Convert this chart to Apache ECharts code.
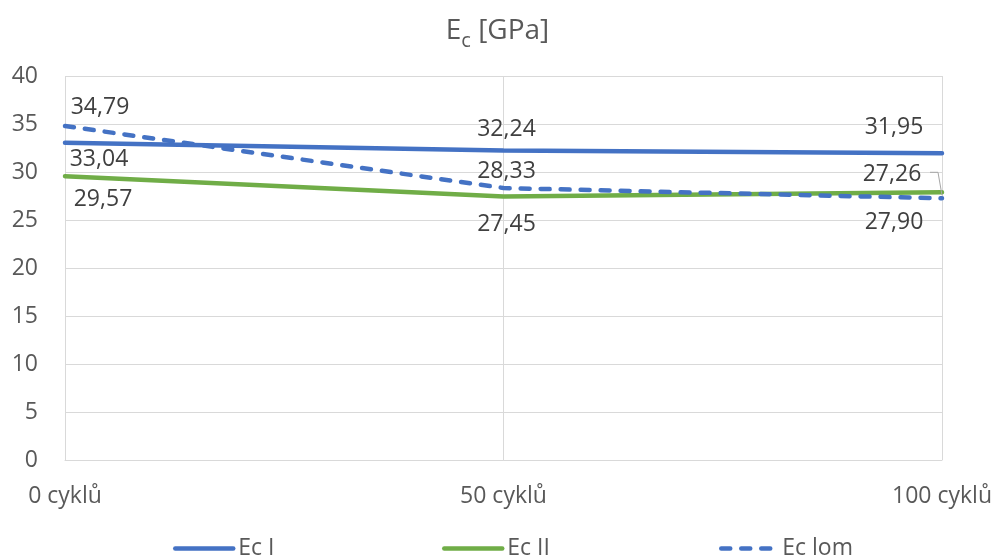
<!DOCTYPE html>
<html><head><meta charset="utf-8">
<script src="https://cdn.jsdelivr.net/npm/echarts@6/dist/echarts.min.js"></script>
<style>html,body{margin:0;padding:0;background:#fff}#c{width:995px;height:557px}</style>
</head><body><div id="c"></div>
<script>
// ---- data ----
const categories = ['0 cyklů', '50 cyklů', '100 cyklů'];
const ecI = [33.04, 32.24, 31.95];
const ecII = [29.57, 27.45, 27.90];
const ecLom = [34.79, 28.33, 27.26];
const seriesNames = ['Ec I', 'Ec II', 'Ec lom'];
const yMin = 0, yMax = 40, yInterval = 5;

// ---- label placement (styling): [seriesIndex][dataIndex] -> [dx, dy] ----
const labelOffsets = [
  [[34, 17], [3, -21], [-48, -26]],
  [[38, 23], [3, 28], [-48, 30]],
  [[35, -19], [3, -17], [-50, -24]]
];

const FONT = 'Open Sans';
const fmt = v => v.toFixed(2).replace('.', ',');

const chart = echarts.init(document.getElementById('c'), null, { renderer: 'canvas' });

function lineSeries(name, vals, color, dashed) {
  return {
    name, type: 'line', data: vals,
    symbol: 'circle', symbolSize: 1, showSymbol: true,
    itemStyle: { color: color },
    lineStyle: { color: color, width: 4.5, type: dashed ? [9, 11] : 'solid', cap: 'round' },
    label: {
      show: true, position: 'inside', formatter: p => fmt(p.value),
      fontFamily: FONT, fontSize: 23, color: '#404040'
    },
    labelLayout: function (params) {
      const o = labelOffsets[params.seriesIndex][params.dataIndex];
      return { dx: o[0], dy: o[1], hideOverlap: false };
    },
    emphasis: { disabled: true },
    animation: false, z: dashed ? 3 : 2
  };
}

const legendBase = {
  top: 532, itemWidth: 58, itemHeight: 14, itemGap: 0,
  itemStyle: { opacity: 0 },
  lineStyle: { width: 4.5 },
  textStyle: { fontFamily: FONT, fontSize: 23, color: '#595959' },
  selectedMode: false
};

chart.setOption({
  backgroundColor: '#ffffff',
  animation: false,
  title: {
    text: '{e|E}{s|c}{e| [GPa]}',
    left: 'center', top: 6,
    textStyle: {
      fontWeight: 'normal',
      rich: {
        e: { fontFamily: FONT, fontSize: 28, fontWeight: 'normal', color: '#595959', lineHeight: 40, verticalAlign: 'middle' },
        s: { fontFamily: FONT, fontSize: 20, fontWeight: 'normal', color: '#595959', lineHeight: 20, verticalAlign: 'bottom' }
      }
    }
  },
  grid: { left: 65, right: 53, top: 76, bottom: 97, containLabel: false },
  xAxis: {
    type: 'category', data: categories, boundaryGap: false,
    axisLine: { show: true, lineStyle: { color: '#d9d9d9', width: 1 } },
    axisTick: { show: false },
    splitLine: { show: true, lineStyle: { color: '#d9d9d9', width: 1 } },
    axisLabel: { margin: 25, fontFamily: FONT, fontSize: 23, color: '#595959' }
  },
  yAxis: {
    type: 'value', min: yMin, max: yMax, interval: yInterval,
    axisLine: { show: false }, axisTick: { show: false },
    splitLine: { lineStyle: { color: '#d9d9d9', width: 1 } },
    axisLabel: { margin: 27, fontFamily: FONT, fontSize: 23, color: '#595959' }
  },
  legend: [
    Object.assign({}, legendBase, { data: [seriesNames[0]], left: 168 }),
    Object.assign({}, legendBase, { data: [seriesNames[1]], left: 437 }),
    Object.assign({}, legendBase, { data: [seriesNames[2]], left: 714, itemWidth: 56 })
  ],
  series: [
    lineSeries(seriesNames[0], ecI, '#4472C4', false),
    lineSeries(seriesNames[1], ecII, '#70AD47', false),
    lineSeries(seriesNames[2], ecLom, '#4472C4', true)
  ]
});

// leader line for the last Ec lom label, derived from the data point pixel
const p = chart.convertToPixel({ seriesIndex: 2 }, [2, ecLom[2]]);
chart.setOption({
  graphic: [{
    type: 'polyline', silent: true, z: 10,
    shape: { points: [[p[0] - 12, p[1] - 26], [p[0] - 4, p[1] - 26], [p[0], p[1] - 3]] },
    style: { stroke: '#a6a6a6', lineWidth: 1, fill: null }
  }]
});
</script>
</body></html>
